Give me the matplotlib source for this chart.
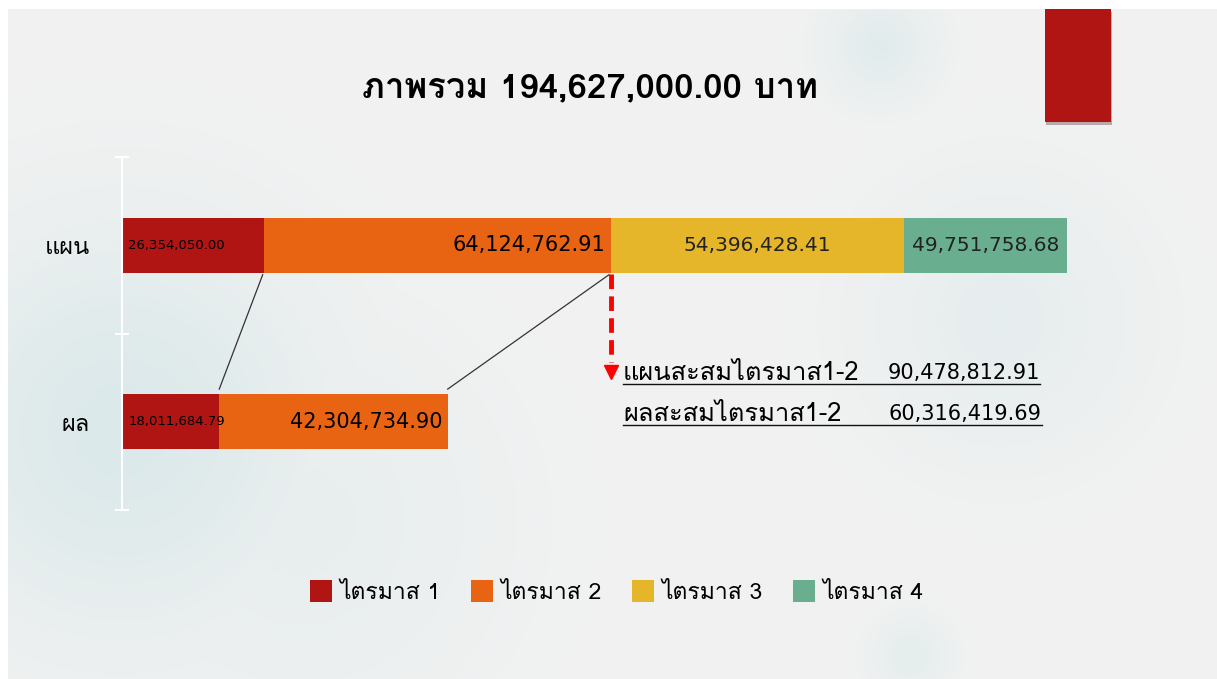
import numpy as np
import matplotlib
matplotlib.use('Agg')
import matplotlib.pyplot as plt
from matplotlib import font_manager
from matplotlib.ft2font import FT2Font
from matplotlib.patches import Rectangle, Patch
import matplotlib.patheffects as pe

# หา font ที่มีอักษรไทย
def find_thai_font():
    names = {f.name for f in font_manager.fontManager.ttflist}
    for n in ['Tahoma', 'Leelawadee', 'Waree', 'Loma', 'Garuda']:
        if n in names:
            return n
    for f in font_manager.fontManager.ttflist:
        try:
            if 0x0E20 in FT2Font(f.fname).get_charmap():
                return f.name
        except Exception:
            pass
    return 'DejaVu Sans'

thai_font = find_thai_font()
plt.rcParams['font.family'] = ['DejaVu Sans', thai_font]
thai_first = [thai_font, 'DejaVu Sans']

# ข้อมูล
categories = ['ผล', 'แผน']
quarters = ['ไตรมาส 1', 'ไตรมาส 2', 'ไตรมาส 3', 'ไตรมาส 4']
plan_values = [26354050.00, 64124762.91, 54396428.41, 49751758.68]
actual_values = [18011684.79, 42304734.90]
colors = ['#b01513', '#e86413', '#e6b62a', '#6aae90']
x_max = 175000000

W, H = 1217, 679
fig = plt.figure(figsize=(W / 100, H / 100), dpi=100)

# พื้นหลังสไลด์
yy, xx = np.mgrid[0:H, 0:W]
bg = np.ones((H, W, 3))
base = np.array([0.949, 0.949, 0.949])
teal = np.array([0.84, 0.905, 0.91])
amt = np.zeros((H, W))
for cx, cy, r, a in [(120, 430, 200, 0.8), (300, 520, 200, 0.35), (1000, 320, 140, 0.4),
                     (880, 45, 55, 0.55), (910, 655, 40, 0.45)]:
    amt = np.maximum(amt, a * np.exp(-((xx - cx) ** 2 + (yy - cy) ** 2) / r ** 2))
slide = base[None, None, :] * (1 - amt[..., None]) + teal[None, None, :] * amt[..., None]
mask = (xx >= 8) & (yy >= 9)
bg[mask] = slide[mask]
ax_bg = fig.add_axes([0, 0, 1, 1], zorder=-10)
ax_bg.imshow(bg, aspect='auto')
ax_bg.axis('off')

# แถบสีแดงมุมขวาบน
fig.patches.append(Rectangle((1045 / W, 1 - 122 / H), 66 / W, 113 / H, transform=fig.transFigure,
                             facecolor='#b01513', edgecolor='none',
                             path_effects=[pe.SimplePatchShadow(offset=(1, -2), alpha=0.3), pe.Normal()]))

# หัวเรื่อง
total = sum(plan_values)
fig.text(590 / W, 1 - 88 / H, 'ภาพรวม {:,.2f} บาท'.format(total), ha='center', va='center',
         fontsize=25, family=thai_first, weight='bold')

ax = fig.add_axes([122 / W, 1 - 510 / H, 945 / W, 353 / H])
ax.set_facecolor('none')
bar_h = 0.31

left = 0
for i, v in enumerate(plan_values):
    ax.barh(1, v, left=left, height=bar_h, color=colors[i], edgecolor='none')
    right = left + v
    if i == 0:
        ax.text(left + 1.2e6, 1, '{:,.2f}'.format(v), ha='left', va='center', fontsize=9.5)
    elif i == 1:
        ax.text(right - 1e6, 1, '{:,.2f}'.format(v), ha='right', va='center', fontsize=15)
    else:
        ax.text((left + min(right, x_max)) / 2, 1, '{:,.2f}'.format(v), ha='center', va='center',
                fontsize=14.5, color='#222222')
    left = right

left = 0
for i, v in enumerate(actual_values):
    ax.barh(0, v, left=left, height=bar_h, color=colors[i], edgecolor='none')
    right = left + v
    if i == 0:
        ax.text(left + 1.2e6, 0, '{:,.2f}'.format(v), ha='left', va='center', fontsize=9.5)
    else:
        ax.text(right - 1e6, 0, '{:,.2f}'.format(v), ha='right', va='center', fontsize=15)
    left = right

plan_cum = np.cumsum(plan_values)
actual_cum = np.cumsum(actual_values)

# เส้นเชื่อม
for p, a in zip(plan_cum[:2], actual_cum):
    ax.plot([p - 0.3e6, a], [1 - bar_h / 2 - 0.012, bar_h / 2 + 0.03], color='#333333', lw=0.9)

# ลูกศรประสีแดง
ax.plot([plan_cum[1], plan_cum[1]], [1 - bar_h / 2 - 0.01, 0.34], color='#ff0000', lw=3.5,
        dashes=(3, 1.5))
ax.plot([plan_cum[1]], [0.28], marker='v', color='#ff0000', markersize=10)

ax.set_xlim(0, x_max)
ax.set_ylim(-0.5, 1.5)
ax.set_xticks([])
ax.set_yticks([0, 1])
ax.set_yticklabels(categories, fontsize=17, family=thai_first)
ax.set_yticks([-0.5, 0.5, 1.5], minor=True)
ax.tick_params(axis='y', which='major', length=0, pad=23)
ax.tick_params(axis='y', which='minor', length=10, direction='inout', color='white', width=1.5)
for s in ['top', 'right', 'bottom']:
    ax.spines[s].set_visible(False)
ax.spines['left'].set_color('white')
ax.spines['left'].set_linewidth(1.5)

# ข้อความสะสม
rows = [('แผนสะสมไตรมาส1-2', plan_cum[1], 373, 1040), ('ผลสะสมไตรมาส1-2', actual_cum[1], 414, 1042)]
for label, val, py, xr in rows:
    fig.text(623 / W, 1 - py / H, label, ha='left', va='center', fontsize=18.3, family=thai_first)
    fig.text(xr / W, 1 - py / H, '{:,.2f}'.format(val), ha='right', va='center', fontsize=15)
    fig.add_artist(plt.Line2D([623 / W, xr / W], [1 - (py + 11) / H, 1 - (py + 11) / H],
                              transform=fig.transFigure, color='#111111', lw=1))

# คำอธิบาย
handles = [Patch(facecolor=c, edgecolor='none') for c in colors]
fig.legend(handles, quarters, loc='center', bbox_to_anchor=(617 / W, 1 - 592 / H), ncol=4,
           frameon=False, prop={'size': 16.5, 'family': thai_first}, handlelength=0.95,
           handleheight=1.05, handletextpad=0.35, columnspacing=1.3)

fig.savefig('out.png', dpi=100)
